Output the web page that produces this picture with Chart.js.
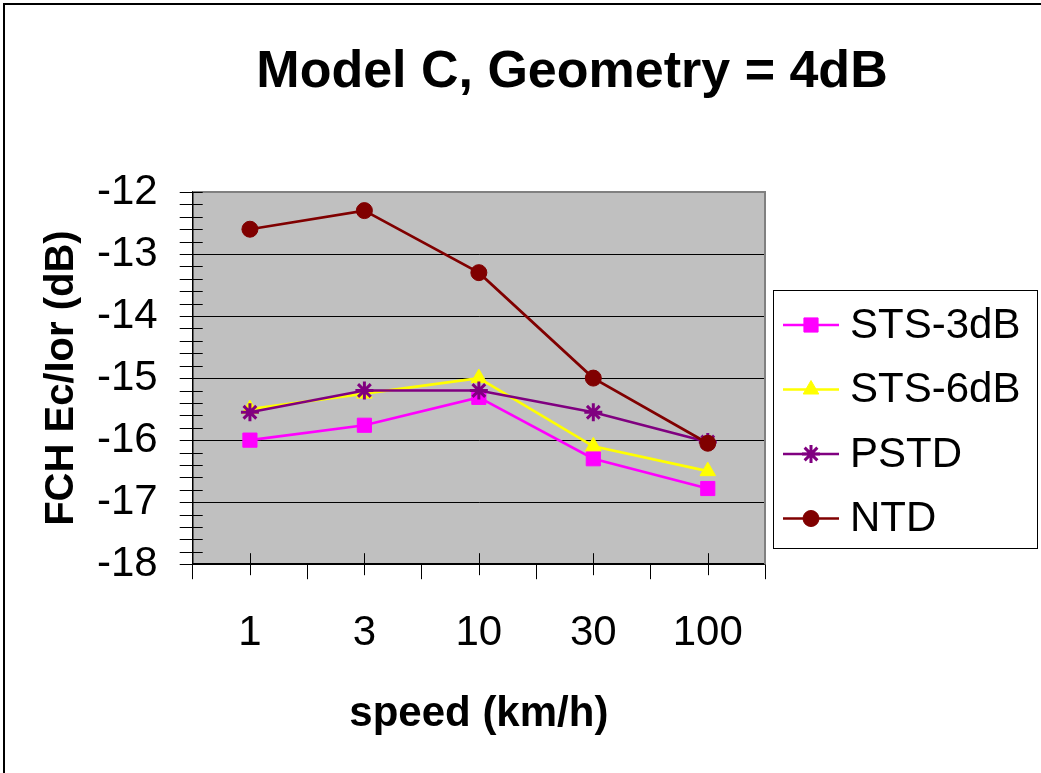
<!DOCTYPE html>
<html>
<head>
<meta charset="utf-8">
<script src="https://cdn.jsdelivr.net/npm/chart.js@4.4.1/dist/chart.umd.min.js"></script>
<style>
  html, body { margin: 0; padding: 0; background: #fff; }
  #wrap { position: relative; width: 1041px; height: 773px; }
</style>
</head>
<body>
<div id="wrap"><canvas id="speedChart" width="1041" height="773"></canvas></div>
<script>
// values
const speeds = ['1', '3', '10', '30', '100'];
const sts3dB = [-16.0, -15.76, -15.31, -16.3, -16.78];
const sts6dB = [-15.5, -15.25, -15.0, -16.1, -16.5];
const pstd = [-15.55, -15.2, -15.2, -15.55, -16.03];
const ntd = [-12.6, -12.3, -13.3, -15.0, -16.05];
const seriesNames = ['STS-3dB', 'STS-6dB', 'PSTD', 'NTD'];
const yMin = -18, yMax = -12;

const FONT = "'Liberation Sans', Arial, sans-serif";
const chartTitle = 'Model C, Geometry = 4dB';

function series(label, data, color, style, radius, order) {
  return {
    label: label, data: data,
    borderColor: color, backgroundColor: color,
    pointBackgroundColor: color, pointBorderColor: color,
    pointStyle: style, pointRadius: radius, pointBorderWidth: style === 'star' ? 3 : 1,
    borderWidth: 2.7, tension: 0, fill: false, order: order
  };
}

// plot background, frame, minor ticks, title and boxed legend
const excelLook = {
  id: 'excelLook',
  beforeDraw(chart) {
    const { ctx, chartArea: a } = chart;
    ctx.save();
    ctx.fillStyle = '#fff';
    ctx.fillRect(0, 0, chart.width, chart.height);
    ctx.fillStyle = '#c0c0c0';
    ctx.fillRect(a.left, a.top, a.right - a.left, a.bottom - a.top);
    // outer frame
    ctx.strokeStyle = '#000';
    ctx.lineWidth = 2;
    ctx.beginPath();
    ctx.moveTo(4, chart.height);
    ctx.lineTo(4, 4);
    ctx.lineTo(chart.width, 4);
    ctx.stroke();
    ctx.restore();
  },
  beforeDatasetsDraw(chart) {
    const { ctx, chartArea: a, scales } = chart;
    ctx.save();
    ctx.strokeStyle = '#808080';
    ctx.lineWidth = 2;
    ctx.beginPath();
    ctx.moveTo(a.left, a.top);
    ctx.lineTo(a.right, a.top);
    ctx.lineTo(a.right, a.bottom);
    ctx.stroke();
    ctx.strokeStyle = '#000';
    ctx.lineWidth = 1;
    ctx.beginPath();
    for (let v = yMin; v <= yMax + 1e-6; v += 0.2) {
      const y = Math.round(scales.y.getPixelForValue(v)) + 0.5;
      ctx.moveTo(a.left - 13, y);
      ctx.lineTo(a.left + 10, y);
    }
    for (let i = 0; i < speeds.length; i++) {
      const x = Math.round(scales.x.getPixelForValue(i)) + 0.5;
      ctx.moveTo(x, a.bottom - 11);
      ctx.lineTo(x, a.bottom + 11);
    }
    ctx.stroke();
    ctx.restore();
  },
  afterDraw(chart) {
    const { ctx } = chart;
    ctx.save();
    ctx.fillStyle = '#000';
    ctx.font = 'bold 52px ' + FONT;
    ctx.textAlign = 'center';
    ctx.textBaseline = 'alphabetic';
    ctx.fillText(chartTitle, 572, 87);

    // legend box
    const bx = 773, by = 290, bw = 264, bh = 258;
    ctx.fillStyle = '#fff';
    ctx.fillRect(bx, by, bw, bh);
    ctx.strokeStyle = '#000';
    ctx.lineWidth = 1;
    ctx.strokeRect(bx + 0.5, by + 0.5, bw, bh);
    ctx.font = '42px ' + FONT;
    ctx.textAlign = 'left';
    ctx.textBaseline = 'middle';
    chart.data.datasets.forEach((ds, i) => {
      const y = 325 + i * 64.5;
      ctx.strokeStyle = ds.borderColor;
      ctx.fillStyle = ds.backgroundColor;
      ctx.lineWidth = ds.borderWidth;
      ctx.beginPath();
      ctx.moveTo(783, y);
      ctx.lineTo(839, y);
      ctx.stroke();
      ctx.lineWidth = ds.pointBorderWidth;
      Chart.helpers.drawPoint(ctx, {
        pointStyle: ds.pointStyle, rotation: 0,
        radius: ds.pointRadius, borderWidth: ds.pointBorderWidth
      }, 811, y);
      ctx.fillStyle = '#000';
      ctx.fillText(ds.label, 850, y + 1);
    });
    ctx.restore();
  }
};

const ctxSpeed = document.getElementById('speedChart').getContext('2d');
new Chart(ctxSpeed, {
  type: 'line',
  data: {
    labels: speeds,
    datasets: [
      series(seriesNames[0], sts3dB, '#ff00ff', 'rect', 10, 4),
      series(seriesNames[1], sts6dB, '#ffff00', 'triangle', 9, 3),
      series(seriesNames[2], pstd, '#800080', 'star', 9, 2),
      series(seriesNames[3], ntd, '#800000', 'circle', 8, 1)
    ]
  },
  options: {
    responsive: false,
    devicePixelRatio: 1,
    animation: false,
    layout: { padding: { left: 8, top: 192, right: 276, bottom: 33 } },
    plugins: {
      legend: { display: false },
      title: { display: false },
      tooltip: { enabled: false }
    },
    scales: {
      x: {
        offset: true,
        grid: { offset: true, drawOnChartArea: false, drawTicks: true, tickLength: 15, color: '#000' },
        border: { color: '#000', width: 1.5 },
        ticks: { color: '#000', padding: 29, font: { family: FONT, size: 42 } },
        title: {
          display: true, text: 'speed (km/h)', color: '#000',
          padding: { top: 2, bottom: 0 },
          font: { family: FONT, size: 42, weight: 'bold' }
        }
      },
      y: {
        min: yMin, max: yMax,
        grid: { color: '#000', lineWidth: 1, drawTicks: false },
        border: { color: '#000', width: 1.5 },
        ticks: { stepSize: 1, color: '#000', padding: 35, font: { family: FONT, size: 42 } },
        title: {
          display: true, text: 'FCH Ec/Ior (dB)', color: '#000',
          padding: { top: 30, bottom: -24 },
          font: { family: FONT, size: 40, weight: 'bold' }
        }
      }
    }
  },
  plugins: [excelLook]
});
</script>
</body>
</html>
